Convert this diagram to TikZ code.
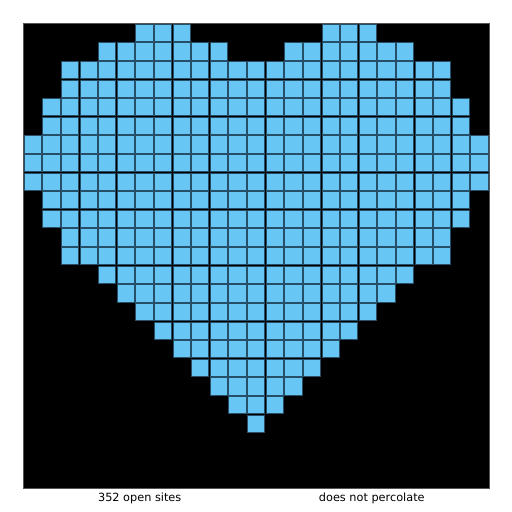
\documentclass[tikz,border=0pt]{standalone}
\usepackage{fontspec}
\setmainfont{DejaVu Sans}
\usepackage{xcolor}
\definecolor{siteblue}{RGB}{104,198,245}
\definecolor{siteedge}{RGB}{38,78,102}
\definecolor{frame}{RGB}{85,85,85}
\usepackage{tikz}
\usetikzlibrary{positioning}

\begin{document}
\begin{tikzpicture}[
  x=1pt, y=-1pt,
  board/.style={fill=black,draw=frame,line width=0.8pt},
  opensite/.style={fill=siteblue,draw=siteedge,line width=0.6pt},
  status/.style={font=\fontsize{11.3}{13}\selectfont,inner sep=0pt}
]
  \useasboundingbox (0,0) rectangle (512,512);
  \def\cell{18.616}
  % Board
  \node[board,minimum width=465.4pt,minimum height=465pt,inner sep=0pt,anchor=north west] (grid) at (23.3,23.3) {};

  % Open sites: row/first/last
  \foreach \r/\a/\b in {0/6/8,0/16/18,1/4/10,1/14/20,2/2/22,3/2/22,4/1/23,5/1/23,
      6/0/24,7/0/24,8/0/24,9/1/23,10/1/23,11/2/22,12/2/22,13/4/20,14/5/19,
      15/6/18,16/7/17,17/8/16,18/9/15,19/10/14,20/11/13,21/12/12}{
    \foreach \c in {\a,...,\b}{
      \draw[opensite] ({23.3+\c*\cell+0.7},{23.3+\r*\cell+0.7})
        rectangle ({23.3+(\c+1)*\cell-0.7},{23.3+(\r+1)*\cell-0.7});
    }
  }

  % Status line
  \node[status] (count) at (139.7,498) {352 open sites};
  \node[status] (perc) at (371.8,498) {does not percolate};
\end{tikzpicture}
\end{document}
